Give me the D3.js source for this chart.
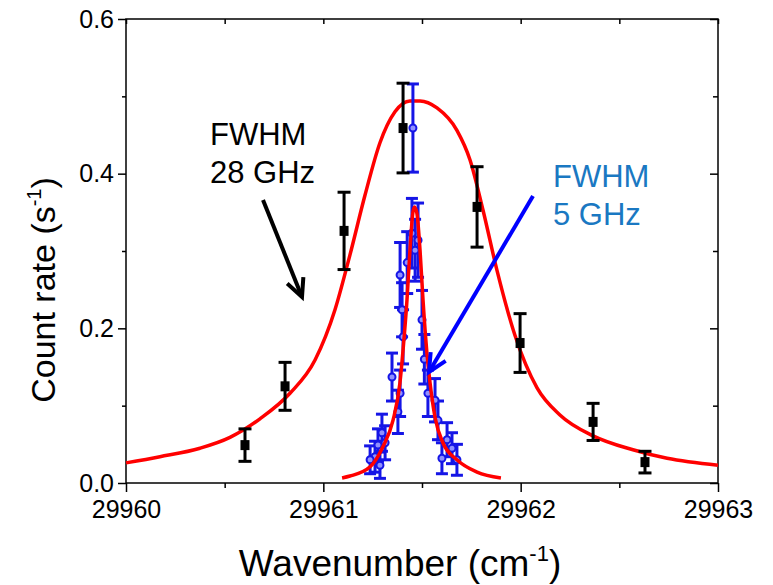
<!DOCTYPE html>
<html>
<head>
<meta charset="utf-8">
<script src="https://cdn.jsdelivr.net/npm/d3@7"></script>
<style>
  body { margin: 0; background: #fff; }
  svg { font-family: "Liberation Sans", Arial, sans-serif; }
</style>
</head>
<body>
<div id="chart"></div>
<script>
// tick values
const xTicks = [29960, 29961, 29962, 29963];
const xMinor = [29960.5, 29961.5, 29962.5];
const yTicks = [0.0, 0.2, 0.4, 0.6];
const yMinor = [0.1, 0.3, 0.5];

// broad scan (black squares)
const blackX = [29960.603, 29960.806, 29961.105, 29961.404, 29961.779, 29961.997, 29962.367, 29962.630];
const blackY = [0.049, 0.125, 0.326, 0.459, 0.357, 0.181, 0.079, 0.027];
const blackErr = [0.021, 0.031, 0.050, 0.058, 0.052, 0.038, 0.024, 0.014];

// narrow scan (blue circles)
const blueX = [29961.454, 29961.449, 29961.480, 29961.465, 29961.389, 29961.399, 29961.500, 29961.404, 29961.348,
               29961.389, 29961.530, 29961.378, 29961.566, 29961.297, 29961.313, 29961.627, 29961.262, 29961.237,
               29961.601, 29961.677, 29961.277, 29961.581, 29961.652, 29961.287, 29961.425, 29961.512];
const blueY = [0.459, 0.323, 0.314, 0.301, 0.269, 0.224, 0.211, 0.189, 0.137,
               0.116, 0.116, 0.092, 0.107, 0.065, 0.052, 0.056, 0.034, 0.030,
               0.032, 0.030, 0.049, 0.081, 0.045, 0.023, 0.285, 0.160];
const blueErr = [0.057, 0.045, 0.048, 0.040, 0.042, 0.035, 0.038, 0.035, 0.031,
                 0.030, 0.030, 0.028, 0.028, 0.024, 0.022, 0.022, 0.020, 0.018,
                 0.020, 0.020, 0.021, 0.025, 0.020, 0.017, 0.040, 0.032];

// fitted profiles
const broadX = [29960.000, 29960.172, 29960.375, 29960.527, 29960.679, 29960.831, 29960.958, 29961.059, 29961.135,
                29961.211, 29961.287, 29961.363, 29961.439, 29961.490, 29961.576, 29961.677, 29961.743, 29961.809,
                29961.880, 29961.971, 29962.083, 29962.199, 29962.367, 29962.569, 29962.742, 29963.000];
const broadY = [0.026, 0.034, 0.045, 0.059, 0.083, 0.116, 0.159, 0.224, 0.295,
                0.372, 0.440, 0.480, 0.494, 0.494, 0.485, 0.456, 0.418, 0.353,
                0.275, 0.191, 0.123, 0.088, 0.061, 0.043, 0.032, 0.023];
const narrowX = [29961.095, 29961.135, 29961.237, 29961.302, 29961.353, 29961.388, 29961.404, 29961.424, 29961.439,
                 29961.454, 29961.462, 29961.474, 29961.490, 29961.505, 29961.525, 29961.541, 29961.566, 29961.606,
                 29961.677, 29961.779, 29961.900];
const narrowY = [0.0065, 0.009, 0.021, 0.047, 0.081, 0.129, 0.172, 0.237, 0.301,
                 0.350, 0.357, 0.349, 0.301, 0.237, 0.168, 0.129, 0.085, 0.052,
                 0.030, 0.014, 0.0065];

const W = 773, H = 585;
const margin = {top: 19, right: 55, bottom: 102, left: 126};
const width = W - margin.left - margin.right,
      height = H - margin.top - margin.bottom;

const svg = d3.select("#chart").append("svg")
    .attr("width", W)
    .attr("height", H);
const g = svg.append("g")
    .attr("transform", "translate(" + margin.left + "," + margin.top + ")");

const x = d3.scaleLinear().domain([29960, 29963]).range([0, width]);
const y = d3.scaleLinear().domain([0, 0.6]).range([height, 0]);

// axes
function styleAxis(sel) {
  sel.select(".domain").remove();
  sel.selectAll(".tick line").attr("stroke", "#000").attr("stroke-width", 1.5);
  sel.selectAll("text").attr("fill", "#000").style("font-size", "25px");
}
g.append("g").attr("transform", "translate(0," + height + ")")
  .call(d3.axisBottom(x).tickValues(xTicks).tickSize(9).tickPadding(8).tickFormat(d3.format("d")))
  .call(styleAxis);
g.append("g").attr("transform", "translate(0," + height + ")")
  .call(d3.axisBottom(x).tickValues(xMinor).tickSize(5).tickFormat(""))
  .call(styleAxis);
g.append("g")
  .call(d3.axisBottom(x).tickValues(xTicks.concat(xMinor)).tickSize(5).tickFormat(""))
  .call(styleAxis);
g.append("g")
  .call(d3.axisLeft(y).tickValues(yTicks).tickSize(8).tickPadding(4).tickFormat(d3.format(".1f")))
  .call(styleAxis);
g.append("g")
  .call(d3.axisLeft(y).tickValues(yMinor).tickSize(4).tickFormat(""))
  .call(styleAxis);
g.append("g").attr("transform", "translate(" + width + ",0)")
  .call(d3.axisLeft(y).tickValues(yTicks).tickSize(8).tickFormat(""))
  .call(styleAxis);
g.append("g").attr("transform", "translate(" + width + ",0)")
  .call(d3.axisLeft(y).tickValues(yMinor).tickSize(5).tickFormat(""))
  .call(styleAxis);

g.append("rect")
  .attr("width", width).attr("height", height)
  .attr("fill", "none").attr("stroke", "#000").attr("stroke-width", 1.5);

// axis titles
const xt = svg.append("text")
  .attr("x", 400).attr("y", 576)
  .attr("text-anchor", "middle").style("font-size", "37px");
xt.append("tspan").text("Wavenumber (cm");
xt.append("tspan").attr("dy", -15).style("font-size", "22px").text("-1");
xt.append("tspan").attr("dy", 15).text(")");

const yt = svg.append("text")
  .attr("transform", "translate(55,290) rotate(-90)")
  .attr("text-anchor", "middle").style("font-size", "34px");
yt.append("tspan").text("Count rate (s");
yt.append("tspan").attr("dy", -14).style("font-size", "20px").text("-1");
yt.append("tspan").attr("dy", 14).text(")");

// fitted curves
const line = d3.line().x(function(d) { return x(d[0]); }).y(function(d) { return y(d[1]); })
  .curve(d3.curveMonotoneX);
g.append("path").datum(d3.zip(broadX, broadY))
  .attr("d", line).attr("fill", "none").attr("stroke", "#ff0000").attr("stroke-width", 3.5);

// blue error bars + markers
const blue = d3.zip(blueX, blueY, blueErr);
const bb = g.append("g").attr("stroke", "#1515e6").attr("stroke-width", 3);
bb.selectAll("line.v").data(blue).enter().append("line")
  .attr("x1", function(d) { return x(d[0]); }).attr("x2", function(d) { return x(d[0]); })
  .attr("y1", function(d) { return y(d[1] - d[2]); }).attr("y2", function(d) { return y(d[1] + d[2]); });
bb.selectAll("line.t").data(blue).enter().append("line")
  .attr("x1", function(d) { return x(d[0]) - 6; }).attr("x2", function(d) { return x(d[0]) + 6; })
  .attr("y1", function(d) { return y(d[1] + d[2]); }).attr("y2", function(d) { return y(d[1] + d[2]); });
bb.selectAll("line.b").data(blue).enter().append("line")
  .attr("x1", function(d) { return x(d[0]) - 6; }).attr("x2", function(d) { return x(d[0]) + 6; })
  .attr("y1", function(d) { return y(d[1] - d[2]); }).attr("y2", function(d) { return y(d[1] - d[2]); });
g.selectAll("circle.blue").data(blue).enter().append("circle")
  .attr("cx", function(d) { return x(d[0]); }).attr("cy", function(d) { return y(d[1]); })
  .attr("r", 3.5).attr("fill", "#9090ff").attr("stroke", "#1515e6").attr("stroke-width", 2);

g.append("path").datum(d3.zip(narrowX, narrowY))
  .attr("d", line).attr("fill", "none").attr("stroke", "#ff0000").attr("stroke-width", 3.5);

// black error bars + squares
const black = d3.zip(blackX, blackY, blackErr);
const kb = g.append("g").attr("stroke", "#000").attr("stroke-width", 3);
kb.selectAll("line.v").data(black).enter().append("line")
  .attr("x1", function(d) { return x(d[0]); }).attr("x2", function(d) { return x(d[0]); })
  .attr("y1", function(d) { return y(d[1] - d[2]); }).attr("y2", function(d) { return y(d[1] + d[2]); });
kb.selectAll("line.t").data(black).enter().append("line")
  .attr("x1", function(d) { return x(d[0]) - 6.5; }).attr("x2", function(d) { return x(d[0]) + 6.5; })
  .attr("y1", function(d) { return y(d[1] + d[2]); }).attr("y2", function(d) { return y(d[1] + d[2]); });
kb.selectAll("line.b").data(black).enter().append("line")
  .attr("x1", function(d) { return x(d[0]) - 6.5; }).attr("x2", function(d) { return x(d[0]) + 6.5; })
  .attr("y1", function(d) { return y(d[1] - d[2]); }).attr("y2", function(d) { return y(d[1] - d[2]); });
g.selectAll("rect.black").data(black).enter().append("rect")
  .attr("x", function(d) { return x(d[0]) - 4.5; }).attr("y", function(d) { return y(d[1]) - 5; })
  .attr("width", 9).attr("height", 10).attr("fill", "#000");

// annotations
svg.append("text").attr("x", 210).attr("y", 145).style("font-size", "31px").text("FWHM");
svg.append("text").attr("x", 210).attr("y", 183).style("font-size", "31px").text("28 GHz");
svg.append("text").attr("x", 553).attr("y", 187).style("font-size", "31px").attr("fill", "#1a78c2").text("FWHM");
svg.append("text").attr("x", 553).attr("y", 225).style("font-size", "31px").attr("fill", "#1a78c2").text("5 GHz");

function arrow(x1, y1, x2, y2, col) {
  const a = Math.atan2(y2 - y1, x2 - x1), L = 20, s = 0.45;
  svg.append("line").attr("x1", x1).attr("y1", y1).attr("x2", x2).attr("y2", y2)
    .attr("stroke", col).attr("stroke-width", 4);
  svg.append("polyline")
    .attr("points", [[x2 - L * Math.cos(a - s), y2 - L * Math.sin(a - s)], [x2, y2],
                     [x2 - L * Math.cos(a + s), y2 - L * Math.sin(a + s)]].map(function(p) { return p.join(","); }).join(" "))
    .attr("fill", "none").attr("stroke", col).attr("stroke-width", 4);
}
arrow(263, 200, 302, 297, "#000");
arrow(533, 196, 429, 372, "#0000ff");
</script>
</body>
</html>
